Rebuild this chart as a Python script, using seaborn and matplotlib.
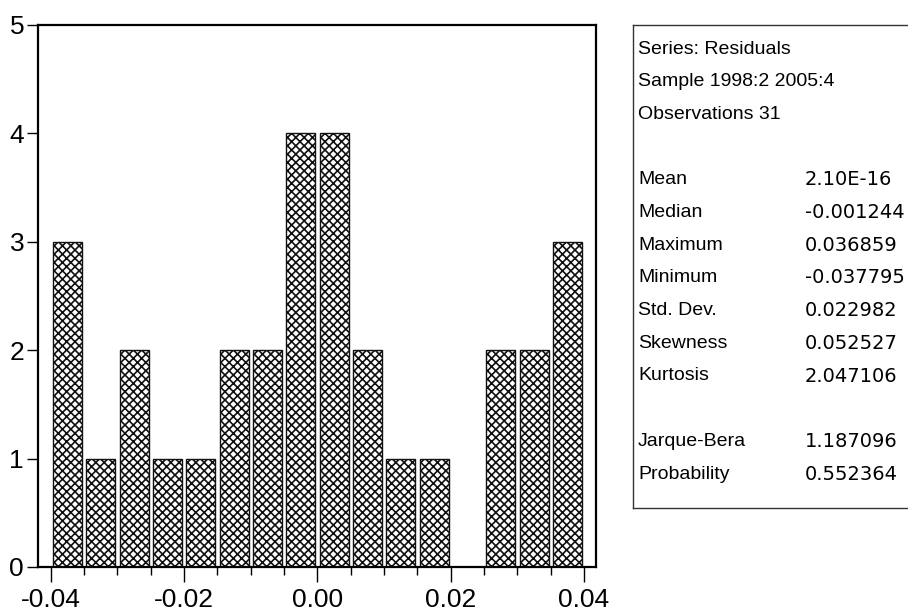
import numpy as np
import matplotlib
matplotlib.use("Agg")
import matplotlib.pyplot as plt
import seaborn as sns

# Histogram of residuals (bin width 0.005)
bin_edges = np.linspace(-0.04, 0.04, 17)
bin_centers = (bin_edges[:-1] + bin_edges[1:]) / 2
counts = [3, 1, 2, 1, 1, 2, 2, 4, 4, 2, 1, 1, 0, 2, 2, 3]

# Summary statistics panel
header_lines = ["Series: Residuals", "Sample 1998:2 2005:4", "Observations 31"]
stat_names = ["Mean", "Median", "Maximum", "Minimum", "Std. Dev.", "Skewness", "Kurtosis"]
stat_values = ["2.10E-16", "-0.001244", "0.036859", "-0.037795", "0.022982", "0.052527", "2.047106"]
test_names = ["Jarque-Bera", "Probability"]
test_values = ["1.187096", "0.552364"]

sns.set_style("white")
plt.rcParams['font.family'] = ['Liberation Sans', 'DejaVu Sans']
plt.rcParams['text.color'] = 'black'
plt.rcParams['xtick.color'] = 'black'
plt.rcParams['ytick.color'] = 'black'
plt.rcParams['hatch.linewidth'] = 1.2

W, H = 908, 614
fig = plt.figure(figsize=(W / 100, H / 100), dpi=100)
ax = fig.add_axes([38 / W, (H - 567) / H, (596 - 38) / W, (567 - 25) / H])

sns.histplot(x=bin_centers, weights=counts, bins=list(bin_edges), shrink=0.87,
             color='white', edgecolor='#111111', linewidth=1.0,
             hatch='xxxx', alpha=1, ax=ax)

ax.set_xlim(-0.0419, 0.0418)
ax.set_ylim(0, 5)
ax.set_xlabel('')
ax.set_ylabel('')
ax.set_xticks([-0.04, -0.02, 0.0, 0.02, 0.04])
ax.set_xticklabels(['-0.04', '-0.02', '0.00', '0.02', '0.04'])
ax.set_xticks(bin_edges, minor=True)
ax.set_yticks([0, 1, 2, 3, 4, 5])
ax.tick_params(axis='x', which='major', direction='out', length=11, width=1,
               labelsize=19, bottom=True, pad=4)
ax.tick_params(axis='x', which='minor', direction='out', length=6, width=1,
               bottom=True)
ax.tick_params(axis='y', direction='out', length=8, width=1, left=True,
               labelsize=19, pad=2)
for side in ['left', 'bottom', 'top', 'right']:
    ax.spines[side].set_visible(True)
    ax.spines[side].set_color('black')
    ax.spines[side].set_linewidth(1.6)

# stats box, running off the right edge like the original
box = fig.add_axes([633 / W, (H - 508) / H, 1.02 - 633 / W, (508 - 25) / H])
box.set_xticks([])
box.set_yticks([])
for side in box.spines.values():
    side.set_color('#333333')
    side.set_linewidth(1.0)

def row_y(i):
    return 1 - (49 + 32.7 * i) / H

for i, line in enumerate(header_lines):
    fig.text(638 / W, row_y(i), line, fontsize=14, va='center', ha='left')
for j, (name, val) in enumerate(zip(stat_names, stat_values)):
    fig.text(638 / W, row_y(4 + j), name, fontsize=14, va='center', ha='left')
    fig.text(805 / W, row_y(4 + j), val, fontsize=14, va='center', ha='left',
             family='DejaVu Sans')
for j, (name, val) in enumerate(zip(test_names, test_values)):
    fig.text(638 / W, row_y(12 + j), name, fontsize=14, va='center', ha='left')
    fig.text(805 / W, row_y(12 + j), val, fontsize=14, va='center', ha='left',
             family='DejaVu Sans')

fig.savefig('out.png', dpi=100)
